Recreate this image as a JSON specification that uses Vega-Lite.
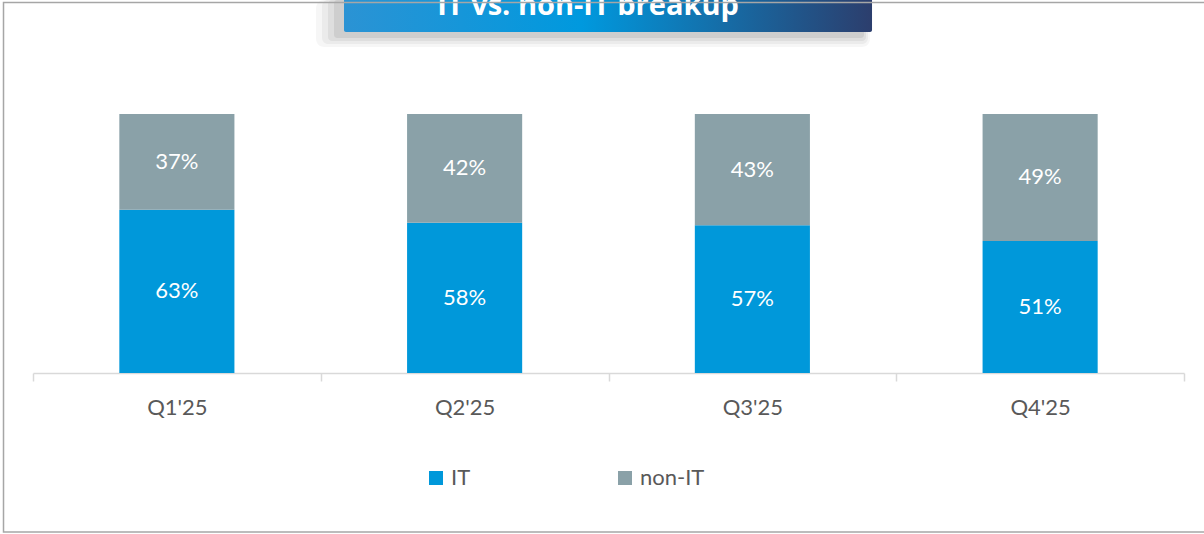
{
  "$schema": "https://vega.github.io/schema/vega-lite/v6.json",
  "autosize": {"type": "none"},
  "width": 1151,
  "height": 259,
  "padding": {"left": 33, "top": 114, "right": 20, "bottom": 161},
  "background": "white",
  "config": {"view": {"stroke": null}, "font": "Lato"},
  "datasets": {
    "bars": [
      {"quarter": "Q1'25", "type": "IT", "share": 0.63, "ord": 1},
      {"quarter": "Q1'25", "type": "non-IT", "share": 0.37, "ord": 2},
      {"quarter": "Q2'25", "type": "IT", "share": 0.58, "ord": 1},
      {"quarter": "Q2'25", "type": "non-IT", "share": 0.42, "ord": 2},
      {"quarter": "Q3'25", "type": "IT", "share": 0.57, "ord": 1},
      {"quarter": "Q3'25", "type": "non-IT", "share": 0.43, "ord": 2},
      {"quarter": "Q4'25", "type": "IT", "share": 0.51, "ord": 1},
      {"quarter": "Q4'25", "type": "non-IT", "share": 0.49, "ord": 2}
    ],
    "title": [{"label": "IT vs. non-IT breakup"}]
  },
  "layer": [
    {
      "data": {"name": "title"},
      "layer": [
        {
          "mark": {"type": "rect", "fill": "#000", "opacity": 0.035, "cornerRadius": 8},
          "encoding": {
            "x": {"datum": 0.9835, "type": "quantitative", "scale": {"domain": [0, 4], "nice": false, "zero": false}, "axis": null},
            "x2": {"datum": 2.9088},
            "y": {"datum": 1.2587, "type": "quantitative", "scale": {"domain": [0, 1], "nice": false, "zero": false}, "axis": null},
            "y2": {"datum": 1.44}
          }
        },
        {
          "mark": {"type": "rect", "fill": "#000", "opacity": 0.045, "cornerRadius": 6},
          "encoding": {
            "x": {"datum": 1.0043, "type": "quantitative"},
            "x2": {"datum": 2.9019},
            "y": {"datum": 1.2703, "type": "quantitative"},
            "y2": {"datum": 1.44}
          }
        },
        {
          "mark": {"type": "rect", "fill": "#000", "opacity": 0.055, "cornerRadius": 4},
          "encoding": {
            "x": {"datum": 1.0252, "type": "quantitative"},
            "x2": {"datum": 2.8949},
            "y": {"datum": 1.2819, "type": "quantitative"},
            "y2": {"datum": 1.44}
          }
        },
        {
          "mark": {"type": "rect", "fill": "#000", "opacity": 0.07, "cornerRadius": 3},
          "encoding": {
            "x": {"datum": 1.046, "type": "quantitative"},
            "x2": {"datum": 2.888},
            "y": {"datum": 1.2934, "type": "quantitative"},
            "y2": {"datum": 1.44}
          }
        },
        {
          "mark": {
            "type": "rect",
            "cornerRadius": 2,
            "fill": {
              "gradient": "linear",
              "x1": 0, "y1": 0, "x2": 1, "y2": 0,
              "stops": [
                {"offset": 0, "color": "#2b93d4"},
                {"offset": 0.45, "color": "#0099de"},
                {"offset": 1, "color": "#2c3e6d"}
              ]
            }
          },
          "encoding": {
            "x": {"datum": 1.0808, "type": "quantitative"},
            "x2": {"datum": 2.9158},
            "y": {"datum": 1.3166, "type": "quantitative"},
            "y2": {"datum": 1.48}
          }
        },
        {
          "mark": {"type": "text", "color": "white", "font": "Open Sans", "fontWeight": "bold", "fontSize": 29, "baseline": "alphabetic", "align": "center"},
          "encoding": {
            "x": {"datum": 1.9288, "type": "quantitative"},
            "y": {"datum": 1.3822, "type": "quantitative"},
            "text": {"field": "label"}
          }
        },
        {
          "mark": {"type": "rect", "filled": false, "stroke": "#a6a6a6", "strokeWidth": 1.5},
          "encoding": {
            "x": {"datum": -0.1025, "type": "quantitative"},
            "x2": {"datum": 4.09},
            "y": {"datum": -0.6139, "type": "quantitative"},
            "y2": {"datum": 1.4305}
          }
        }
      ]
    },
    {
      "data": {"name": "bars"},
      "transform": [
        {"stack": "share", "groupby": ["quarter"], "sort": [{"field": "ord", "order": "ascending"}], "as": ["p0", "p1"]},
        {"calculate": "(datum.p0 + datum.p1) / 2", "as": "mid"}
      ],
      "encoding": {
        "x": {
          "field": "quarter",
          "type": "nominal",
          "sort": null,
          "scale": {"paddingInner": 0, "paddingOuter": 0},
          "axis": {
            "orient": "bottom",
            "title": null,
            "labelAngle": 0,
            "labelFontSize": 22,
            "labelColor": "#595959",
            "labelFont": "Lato",
            "labelPadding": 16,
            "domainColor": "#d9d9d9",
            "domainWidth": 1.5,
            "tickColor": "#d9d9d9",
            "tickWidth": 1.5,
            "tickSize": 8,
            "tickBand": "extent",
            "grid": false
          }
        }
      },
      "layer": [
        {
          "mark": {"type": "bar", "width": {"band": 0.4}},
          "encoding": {
            "y": {"field": "p0", "type": "quantitative", "scale": {"domain": [0, 1], "nice": false}, "axis": null},
            "y2": {"field": "p1"},
            "color": {
              "field": "type",
              "type": "nominal",
              "scale": {"domain": ["IT", "non-IT"], "range": ["#0098da", "#8aa1a8"]},
              "legend": {
                "title": null,
                "orient": "none",
                "direction": "horizontal",
                "legendX": 392,
                "legendY": 353,
                "symbolType": "square",
                "symbolSize": 196,
                "symbolStrokeWidth": 0,
                "labelFontSize": 22,
                "labelColor": "#595959",
                "labelFont": "Lato",
                "labelOffset": 4,
                "columnPadding": 143,
                "padding": 0
              }
            }
          }
        },
        {
          "mark": {"type": "text", "color": "white", "fontSize": 22, "font": "Lato", "baseline": "middle"},
          "encoding": {
            "y": {"field": "mid", "type": "quantitative"},
            "text": {"field": "share", "type": "quantitative", "format": ".0%"},
            "detail": {"field": "type"}
          }
        }
      ]
    }
  ],
  "resolve": {"scale": {"x": "independent", "y": "independent"}}
}
